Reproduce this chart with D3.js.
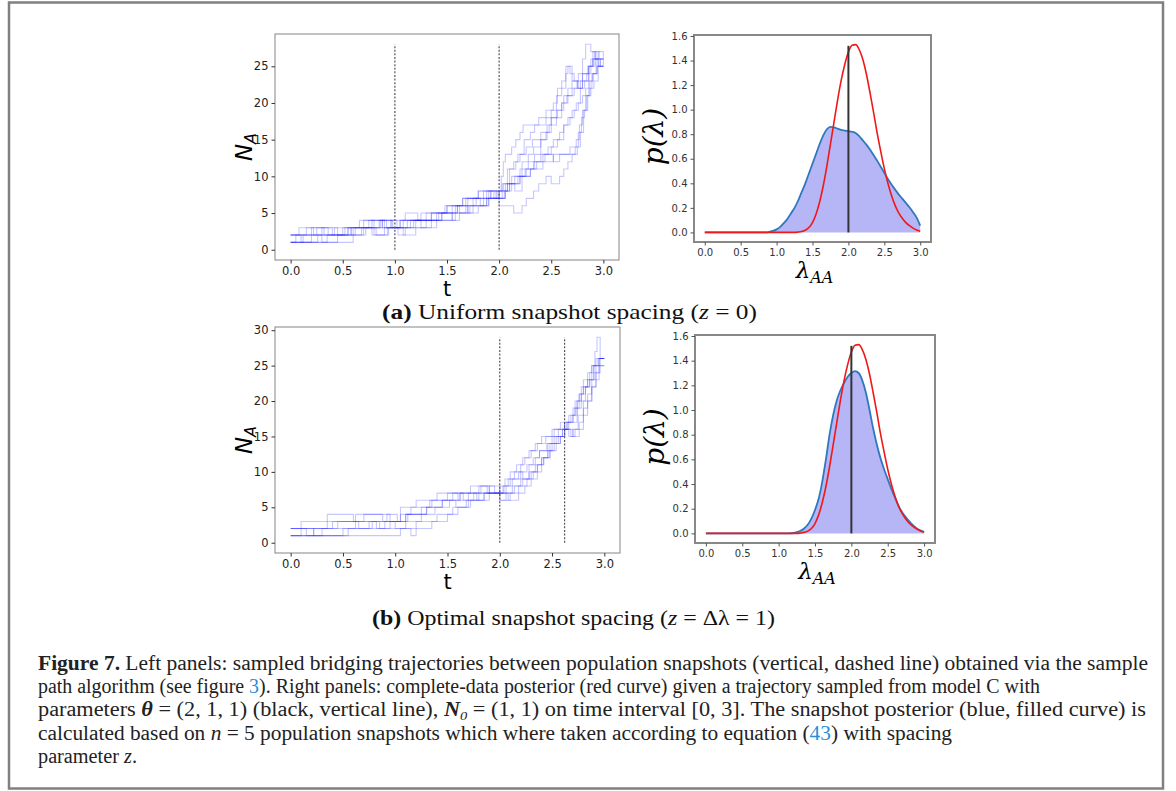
<!DOCTYPE html>
<html>
<head>
<meta charset="utf-8">
<script src="https://cdn.jsdelivr.net/npm/d3@7"></script>
<style>
  body { margin: 0; background: #fff; }
  svg { display: block; }
</style>
</head>
<body>
<div id="chart"></div>
<script>
// ---- data ----
// snapshot times (dashed lines)
const snapUniform = [1.0, 2.0];
const snapOptimal = [2.0, 2.62];

// sampled bridging trajectories, [t, N_A] step points
const pathsUniform = [
  [[0,1],[0.2,2],[0.52,3],[0.8,2],[0.93,3],[1.05,4],[1.25,5],[1.48,6],[1.62,5],[1.7,6],[1.85,7],[1.97,8],[2.08,9],[2.18,10],[2.25,11],[2.33,12],[2.4,13],[2.47,14],[2.52,15],[2.58,16],[2.62,17],[2.68,18],[2.72,19],[2.76,20],[2.8,21],[2.83,22],[2.86,23],[2.9,24],[2.94,25],[2.97,26],[3.0,26]],
  [[0,2],[0.1,1],[0.35,2],[0.6,3],[0.78,2],[0.9,3],[1.08,2],[1.2,3],[1.4,4],[1.58,5],[1.72,6],[1.88,7],[2.0,6],[2.14,5],[2.22,6],[2.26,7],[2.33,8],[2.38,9],[2.45,10],[2.5,9],[2.58,10],[2.62,11],[2.66,12],[2.7,13],[2.73,14],[2.76,16],[2.79,18],[2.82,19],[2.85,21],[2.88,22],[2.91,23],[2.95,25],[3.0,25]],
  [[0,1],[0.05,2],[0.25,3],[0.4,2],[0.55,3],[0.7,4],[0.88,3],[1.12,4],[1.3,5],[1.5,6],[1.65,7],[1.8,8],[1.95,7],[2.0,8],[2.02,10],[2.04,12],[2.06,13],[2.12,14],[2.16,15],[2.2,16],[2.23,17],[2.38,18],[2.45,19],[2.52,20],[2.56,22],[2.6,23],[2.64,25],[2.68,24],[2.72,23],[2.76,24],[2.8,26],[2.83,28],[2.88,27],[2.92,26],[3.0,26]],
  [[0,2],[0.3,3],[0.45,2],[0.68,3],[0.85,4],[0.97,3],[1.05,4],[1.25,3],[1.35,4],[1.55,5],[1.68,6],[1.78,7],[1.9,8],[1.98,7],[2.03,8],[2.1,9],[2.2,10],[2.3,11],[2.42,12],[2.52,13],[2.68,14],[2.74,15],[2.77,17],[2.8,19],[2.83,21],[2.86,22],[2.89,24],[2.93,26],[2.97,25],[3.0,25]],
  [[0,1],[0.12,2],[0.3,1],[0.45,2],[0.62,3],[0.78,4],[0.92,3],[1.15,4],[1.35,5],[1.55,4],[1.62,5],[1.75,6],[1.88,8],[2.0,7],[2.06,9],[2.12,10],[2.2,11],[2.28,12],[2.34,13],[2.4,15],[2.45,16],[2.5,18],[2.55,19],[2.6,20],[2.65,21],[2.7,22],[2.75,23],[2.8,24],[2.86,25],[2.9,26],[2.95,25],[3.0,26]],
  [[0,2],[0.2,3],[0.36,2],[0.5,3],[0.75,4],[0.9,3],[1.03,2],[1.1,3],[1.3,4],[1.45,5],[1.6,6],[1.75,7],[1.92,8],[2.08,9],[2.15,8],[2.22,10],[2.3,11],[2.36,12],[2.44,13],[2.52,12],[2.58,13],[2.75,14],[2.78,16],[2.81,19],[2.84,21],[2.87,23],[2.9,24],[2.94,25],[3.0,25]],
  [[0,1],[0.6,2],[0.72,3],[0.88,4],[1.1,5],[1.22,4],[1.35,5],[1.5,6],[1.65,7],[1.8,8],[1.92,7],[2.05,8],[2.1,9],[2.15,10],[2.22,12],[2.28,13],[2.33,14],[2.4,15],[2.46,17],[2.5,18],[2.56,19],[2.62,21],[2.66,22],[2.7,23],[2.75,22],[2.8,24],[2.85,25],[2.9,27],[2.93,26],[3.0,26]],
  [[0,2],[0.08,3],[0.22,2],[0.42,3],[0.58,2],[0.7,3],[0.82,2],[0.94,3],[1.18,4],[1.42,5],[1.58,6],[1.7,7],[1.82,6],[1.9,7],[2.0,8],[2.04,9],[2.1,11],[2.16,12],[2.2,13],[2.26,14],[2.32,15],[2.4,16],[2.48,17],[2.55,18],[2.6,20],[2.66,21],[2.72,22],[2.78,23],[2.84,24],[2.88,26],[2.95,25],[3.0,25]],
  [[0,1],[0.26,2],[0.55,3],[0.66,4],[0.8,3],[0.96,4],[1.02,3],[1.2,4],[1.45,5],[1.55,6],[1.68,7],[1.85,8],[2.03,9],[2.08,11],[2.14,12],[2.18,13],[2.24,15],[2.3,16],[2.34,17],[2.45,18],[2.5,19],[2.55,21],[2.6,22],[2.64,24],[2.66,25],[2.7,23],[2.76,22],[2.8,23],[2.86,25],[2.92,27],[2.96,26],[3.0,26]],
  [[0,2],[0.15,3],[0.32,2],[0.58,3],[0.86,4],[0.98,3],[1.08,4],[1.4,5],[1.6,6],[1.7,5],[1.8,6],[1.9,7],[2.06,8],[2.12,9],[2.2,10],[2.26,11],[2.34,12],[2.42,13],[2.5,14],[2.56,15],[2.62,17],[2.66,18],[2.7,19],[2.74,20],[2.78,22],[2.82,23],[2.86,25],[2.9,26],[2.95,27],[3.0,26]]
];

const pathsOptimal = [
  [[0,1],[0.55,2],[0.9,3],[1.1,4],[1.3,5],[1.45,6],[1.62,7],[1.8,8],[1.9,7],[2.06,8],[2.12,9],[2.2,10],[2.26,11],[2.32,12],[2.38,13],[2.45,14],[2.52,15],[2.6,16],[2.65,17],[2.7,18],[2.74,20],[2.78,21],[2.82,22],[2.86,23],[2.9,24],[2.95,26],[3.0,26]],
  [[0,1],[1.05,2],[1.15,1],[1.2,2],[1.35,3],[1.5,4],[1.6,5],[1.72,6],[1.85,7],[2.08,6],[2.18,7],[2.24,8],[2.3,9],[2.36,11],[2.42,12],[2.48,13],[2.54,14],[2.58,15],[2.62,16],[2.66,15],[2.7,16],[2.75,18],[2.8,20],[2.84,21],[2.88,23],[2.92,25],[2.96,26],[3.0,26]],
  [[0,2],[0.1,3],[0.35,4],[0.6,3],[0.82,2],[0.95,3],[1.1,4],[1.25,5],[1.33,6],[1.5,7],[1.65,6],[1.75,7],[1.9,8],[2.0,7],[2.03,8],[2.08,9],[2.14,10],[2.2,11],[2.24,12],[2.3,13],[2.36,14],[2.44,15],[2.52,16],[2.58,17],[2.62,16],[2.66,17],[2.7,19],[2.74,20],[2.78,22],[2.84,23],[2.88,25],[2.91,27],[2.93,29],[2.96,26],[3.0,26]],
  [[0,2],[0.22,1],[0.5,2],[0.75,3],[1.0,2],[1.2,3],[1.4,4],[1.55,5],[1.68,6],[1.8,7],[2.0,6],[2.1,7],[2.18,8],[2.26,9],[2.32,10],[2.4,12],[2.46,13],[2.5,14],[2.56,15],[2.62,16],[2.68,15],[2.72,16],[2.76,17],[2.8,19],[2.84,20],[2.88,22],[2.92,24],[2.96,25],[3.0,25]],
  [[0,1],[0.1,2],[0.45,3],[0.7,4],[0.88,3],[1.05,5],[1.2,6],[1.4,7],[1.6,6],[1.7,7],[1.82,8],[1.95,7],[2.0,8],[2.05,9],[2.1,10],[2.16,11],[2.22,12],[2.28,13],[2.34,14],[2.4,15],[2.5,16],[2.62,17],[2.66,18],[2.72,19],[2.76,21],[2.8,22],[2.84,24],[2.88,25],[2.92,26],[3.0,26]],
  [[0,2],[0.35,3],[0.62,4],[0.95,3],[1.05,4],[1.15,5],[1.35,6],[1.55,7],[1.72,8],[1.88,7],[2.12,8],[2.2,9],[2.28,10],[2.34,11],[2.4,12],[2.46,13],[2.52,14],[2.58,15],[2.62,16],[2.7,15],[2.76,16],[2.8,18],[2.84,20],[2.88,22],[2.92,23],[2.95,25],[3.0,25]],
  [[0,1],[0.22,2],[0.4,3],[0.65,2],[0.78,3],[0.92,4],[1.02,3],[1.12,4],[1.3,5],[1.45,6],[1.58,5],[1.7,6],[1.85,7],[2.04,8],[2.1,9],[2.18,10],[2.22,9],[2.28,11],[2.34,12],[2.38,13],[2.46,14],[2.5,15],[2.56,16],[2.62,17],[2.68,18],[2.72,20],[2.76,21],[2.8,23],[2.86,24],[2.9,25],[2.94,26],[3.0,26]],
  [[0,2],[0.15,1],[0.3,2],[0.62,3],[0.85,2],[1.1,3],[1.25,4],[1.38,5],[1.52,6],[1.62,7],[1.78,6],[1.9,7],[2.0,6],[2.06,7],[2.14,8],[2.22,9],[2.3,10],[2.36,11],[2.42,12],[2.48,14],[2.54,15],[2.6,16],[2.64,17],[2.74,19],[2.78,20],[2.82,22],[2.86,23],[2.9,25],[2.95,26],[3.0,26]]
];

// posterior densities on lambda grid 0..3 step 0.05
const lambdaGrid = d3.range(61).map(i => +(i * 0.05).toFixed(2));
const redPosterior = [0,0,0,0,0,0,0,0,0,0, 0,0,0,0,0,0,0,0,0,0,
  0,0,0,0,0,0,0.003,0.008,0.018,0.04, 0.08,0.15,0.25,0.38,0.54,0.72,0.9,1.08,1.24,1.37,
  1.47,1.525,1.53,1.49,1.41,1.29,1.14,0.98,0.81,0.66, 0.52,0.4,0.3,0.22,0.16,0.115,0.08,0.055,0.035,0.02, 0.01];
const blueUniform = [0,0,0,0,0,0,0,0,0,0, 0,0,0,0,0,0,0,0,0.005,0.012,
  0.025,0.045,0.075,0.11,0.155,0.2,0.26,0.33,0.4,0.48, 0.56,0.64,0.72,0.79,0.84,0.86,0.855,0.845,0.835,0.83,
  0.825,0.82,0.81,0.785,0.75,0.715,0.675,0.63,0.585,0.535, 0.485,0.435,0.39,0.35,0.31,0.275,0.24,0.205,0.165,0.12, 0.055];
const blueOptimal = [0,0,0,0,0,0,0,0,0,0, 0,0,0,0,0,0,0,0,0,0,
  0,0,0,0,0.003,0.01,0.02,0.04,0.07,0.12, 0.19,0.28,0.42,0.6,0.8,0.96,1.08,1.16,1.22,1.27,
  1.3,1.315,1.3,1.24,1.14,1.0,0.85,0.72,0.61,0.52, 0.44,0.36,0.29,0.22,0.17,0.13,0.095,0.065,0.04,0.025, 0.013];
const trueLambda = 2.0;
const trueHeight = 1.52;

const xTicks = [0, 0.5, 1, 1.5, 2, 2.5, 3];
const yTicksUniform = [0, 5, 10, 15, 20, 25];
const yTicksOptimal = [0, 5, 10, 15, 20, 25, 30];
const pTicks = [0, 0.2, 0.4, 0.6, 0.8, 1.0, 1.2, 1.4, 1.6];

// ---- drawing ----
const W = 1176, H = 791;
const svg = d3.select("#chart").append("svg")
  .attr("width", W).attr("height", H);

svg.append("rect")
  .attr("x", 9).attr("y", 2.5).attr("width", 1154).attr("height", 786)
  .attr("fill", "none").attr("stroke", "#808080").attr("stroke-width", 2.5);

function trajPanel(box, paths, snaps, yDom, yTicks) {
  const x = d3.scaleLinear().domain([-0.15, 3.15]).range([box.x0, box.x1]);
  const y = d3.scaleLinear().domain(yDom).range([box.y1, box.y0]);
  const g = svg.append("g");

  const line = d3.line()
    .x(d => x(d[0])).y(d => y(d[1]))
    .curve(d3.curveStepAfter);
  g.selectAll(".traj")
    .data(paths)
    .enter()
    .append("path")
      .attr("class", "traj")
      .attr("d", line)
      .attr("fill", "none")
      .attr("stroke", "rgba(0,0,255,0.22)")
      .attr("stroke-width", 1.1);

  g.selectAll(".snap")
    .data(snaps)
    .enter()
    .append("line")
      .attr("x1", d => x(d)).attr("x2", d => x(d))
      .attr("y1", y(0)).attr("y2", y(yDom[1] - (yDom[1] - yDom[0]) * 0.045))
      .attr("stroke", "#555").attr("stroke-width", 1.2)
      .attr("stroke-dasharray", "2,1.6");

  g.append("rect")
    .attr("x", box.x0).attr("y", box.y0)
    .attr("width", box.x1 - box.x0).attr("height", box.y1 - box.y0)
    .attr("fill", "none").attr("stroke", "#999").attr("stroke-width", 1.2);

  const ax = g.append("g").attr("transform", "translate(0," + box.y1 + ")")
    .call(d3.axisBottom(x).tickValues(xTicks).tickFormat(d3.format(".1f")).tickSize(3.5).tickPadding(3));
  const ay = g.append("g").attr("transform", "translate(" + box.x0 + ",0)")
    .call(d3.axisLeft(y).tickValues(yTicks).tickFormat(d3.format("d")).tickSize(3.5).tickPadding(3));
  [ax, ay].forEach(a => {
    a.select(".domain").remove();
    a.selectAll("line").attr("stroke", "#333");
    a.selectAll("text").attr("fill", "#222")
      .style("font-family", "DejaVu Sans").style("font-size", "11.5px");
  });

  // axis labels
  g.append("text")
    .attr("x", (box.x0 + box.x1) / 2 - 0).attr("y", box.y1 + 36)
    .attr("text-anchor", "middle")
    .style("font-family", "DejaVu Sans").style("font-size", "21px")
    .text("t");
  const yl = g.append("text")
    .attr("transform", "translate(" + (box.x0 - 23) + "," + ((box.y0 + box.y1) / 2) + ") rotate(-90)")
    .attr("text-anchor", "middle")
    .style("font-family", "DejaVu Sans").style("font-size", "23px");
  yl.append("tspan").style("font-style", "italic").text("N");
  yl.append("tspan").attr("dy", 4).style("font-size", "16px").style("font-style", "italic").text("A");
}

function densityPanel(box, blue, red) {
  const x = d3.scaleLinear().domain([-0.15, 3.15]).range([box.x0, box.x1]);
  const y = d3.scaleLinear().domain([-0.078, 1.608]).range([box.y1, box.y0]);
  const g = svg.append("g");
  const pts = (vals) => lambdaGrid.map((l, i) => [l, vals[i]]);

  g.append("path")
    .datum(pts(blue))
    .attr("d", d3.area().x(d => x(d[0])).y0(y(0)).y1(d => y(d[1])).curve(d3.curveMonotoneX))
    .attr("fill", "#b6b6f6");
  g.append("path")
    .datum(pts(blue))
    .attr("d", d3.line().x(d => x(d[0])).y(d => y(d[1])).curve(d3.curveMonotoneX))
    .attr("fill", "none").attr("stroke", "#2f78be").attr("stroke-width", 1.8);
  g.append("path")
    .datum(pts(red))
    .attr("d", d3.line().x(d => x(d[0])).y(d => y(d[1])).curve(d3.curveMonotoneX))
    .attr("fill", "none").attr("stroke", "#f01818").attr("stroke-width", 1.6);
  g.append("line")
    .attr("x1", x(trueLambda)).attr("x2", x(trueLambda))
    .attr("y1", y(0)).attr("y2", y(trueHeight))
    .attr("stroke", "#333").attr("stroke-width", 2);

  g.append("rect")
    .attr("x", box.x0).attr("y", box.y0)
    .attr("width", box.x1 - box.x0).attr("height", box.y1 - box.y0)
    .attr("fill", "none").attr("stroke", "#888").attr("stroke-width", 2);

  const ax = g.append("g").attr("transform", "translate(0," + box.y1 + ")")
    .call(d3.axisBottom(x).tickValues(xTicks).tickFormat(d3.format(".1f")).tickSize(3.5).tickPadding(3));
  const ay = g.append("g").attr("transform", "translate(" + box.x0 + ",0)")
    .call(d3.axisLeft(y).tickValues(pTicks).tickFormat(d3.format(".1f")).tickSize(3.5).tickPadding(3));
  [ax, ay].forEach(a => {
    a.select(".domain").remove();
    a.selectAll("line").attr("stroke", "#555");
    a.selectAll("text").attr("fill", "#333")
      .style("font-family", "DejaVu Sans").style("font-size", "10px");
  });

  const xl = g.append("text")
    .attr("x", (box.x0 + box.x1) / 2 + 2).attr("y", box.y1 + 36)
    .attr("text-anchor", "middle")
    .style("font-family", "DejaVu Serif").style("font-style", "italic").style("font-size", "23px");
  xl.append("tspan").text("λ");
  xl.append("tspan").attr("dy", 5).style("font-size", "16px").text("AA");
  g.append("text")
    .attr("transform", "translate(" + (box.x0 - 31) + "," + ((box.y0 + box.y1) / 2 - 2) + ") rotate(-90)")
    .attr("text-anchor", "middle")
    .style("font-family", "DejaVu Serif").style("font-style", "italic").style("font-size", "28px")
    .text("p(λ)");
}

trajPanel({x0: 275, x1: 619, y0: 34, y1: 260}, pathsUniform, snapUniform, [-1.4, 29.4], yTicksUniform);
densityPanel({x0: 694, x1: 931, y0: 35, y1: 242}, blueUniform, redPosterior);
trajPanel({x0: 275, x1: 620, y0: 327, y1: 553}, pathsOptimal, snapOptimal, [-1.45, 30.45], yTicksOptimal);
densityPanel({x0: 695, x1: 935, y0: 335, y1: 543}, blueOptimal, redPosterior);

// sub-captions
function subCaption(x0, x1, yb, parts) {
  const t = svg.append("text")
    .attr("x", x0).attr("y", yb)
    .style("font-family", "Liberation Serif").style("font-size", "21px")
    .style("white-space", "pre").attr("fill", "#111");
  parts.forEach(p => {
    const s = t.append("tspan").text(p[0]);
    if (p[1] === "b") s.style("font-weight", "bold");
    if (p[1] === "i") s.style("font-style", "italic");
  });
  t.attr("textLength", x1 - x0).attr("lengthAdjust", "spacingAndGlyphs");
}
subCaption(382, 757, 319, [["(a)", "b"], [" Uniform snapshot spacing ("], ["z", "i"], [" = 0)"]]);
subCaption(372, 775, 625, [["(b)", "b"], [" Optimal snapshot spacing ("], ["z", "i"], [" = Δλ = 1)"]]);

// figure caption, each line squeezed to its measured right edge
const captionLines = [
  [["Figure 7.", "b"], ["  Left panels: sampled bridging trajectories between population snapshots (vertical, dashed line) obtained via the sample"]],
  [["path algorithm (see figure "], ["3", "link"], ["). Right panels: complete-data posterior (red curve) given a trajectory sampled from model C with"]],
  [["parameters "], ["θ", "bi"], [" = (2, 1, 1) (black, vertical line), "], ["N", "bi"], ["0", "sub"], [" = (1, 1) on time interval [0, 3]. The snapshot posterior (blue, filled curve) is"]],
  [["calculated based on "], ["n", "i"], [" = 5 population snapshots which where taken according to equation ("], ["43", "link"], [") with spacing"]],
  [["parameter "], ["z", "i"], ["."]]
];
const captionEnds = [1148, 1040, 1146, 952, 137];
const capG = svg.append("g")
  .style("font-family", "Liberation Serif").style("font-size", "20px")
  .style("white-space", "pre").attr("fill", "#222");
captionLines.forEach((parts, li) => {
  const t = capG.append("text").attr("x", 38).attr("y", 670 + li * 23.2);
  let lifted = false;
  parts.forEach(p => {
    const s = t.append("tspan").text(p[0]);
    if (lifted) { s.attr("dy", -4); lifted = false; }
    if (p[1] === "b") s.style("font-weight", "bold");
    if (p[1] === "i") s.style("font-style", "italic");
    if (p[1] === "bi") s.style("font-weight", "bold").style("font-style", "italic");
    if (p[1] === "link") s.attr("fill", "#2a8fd6");
    if (p[1] === "sub") { s.attr("dy", 4).style("font-size", "13px").style("font-style", "italic"); lifted = true; }
  });
  t.attr("textLength", captionEnds[li] - 38).attr("lengthAdjust", "spacingAndGlyphs");
});
</script>
</body>
</html>
